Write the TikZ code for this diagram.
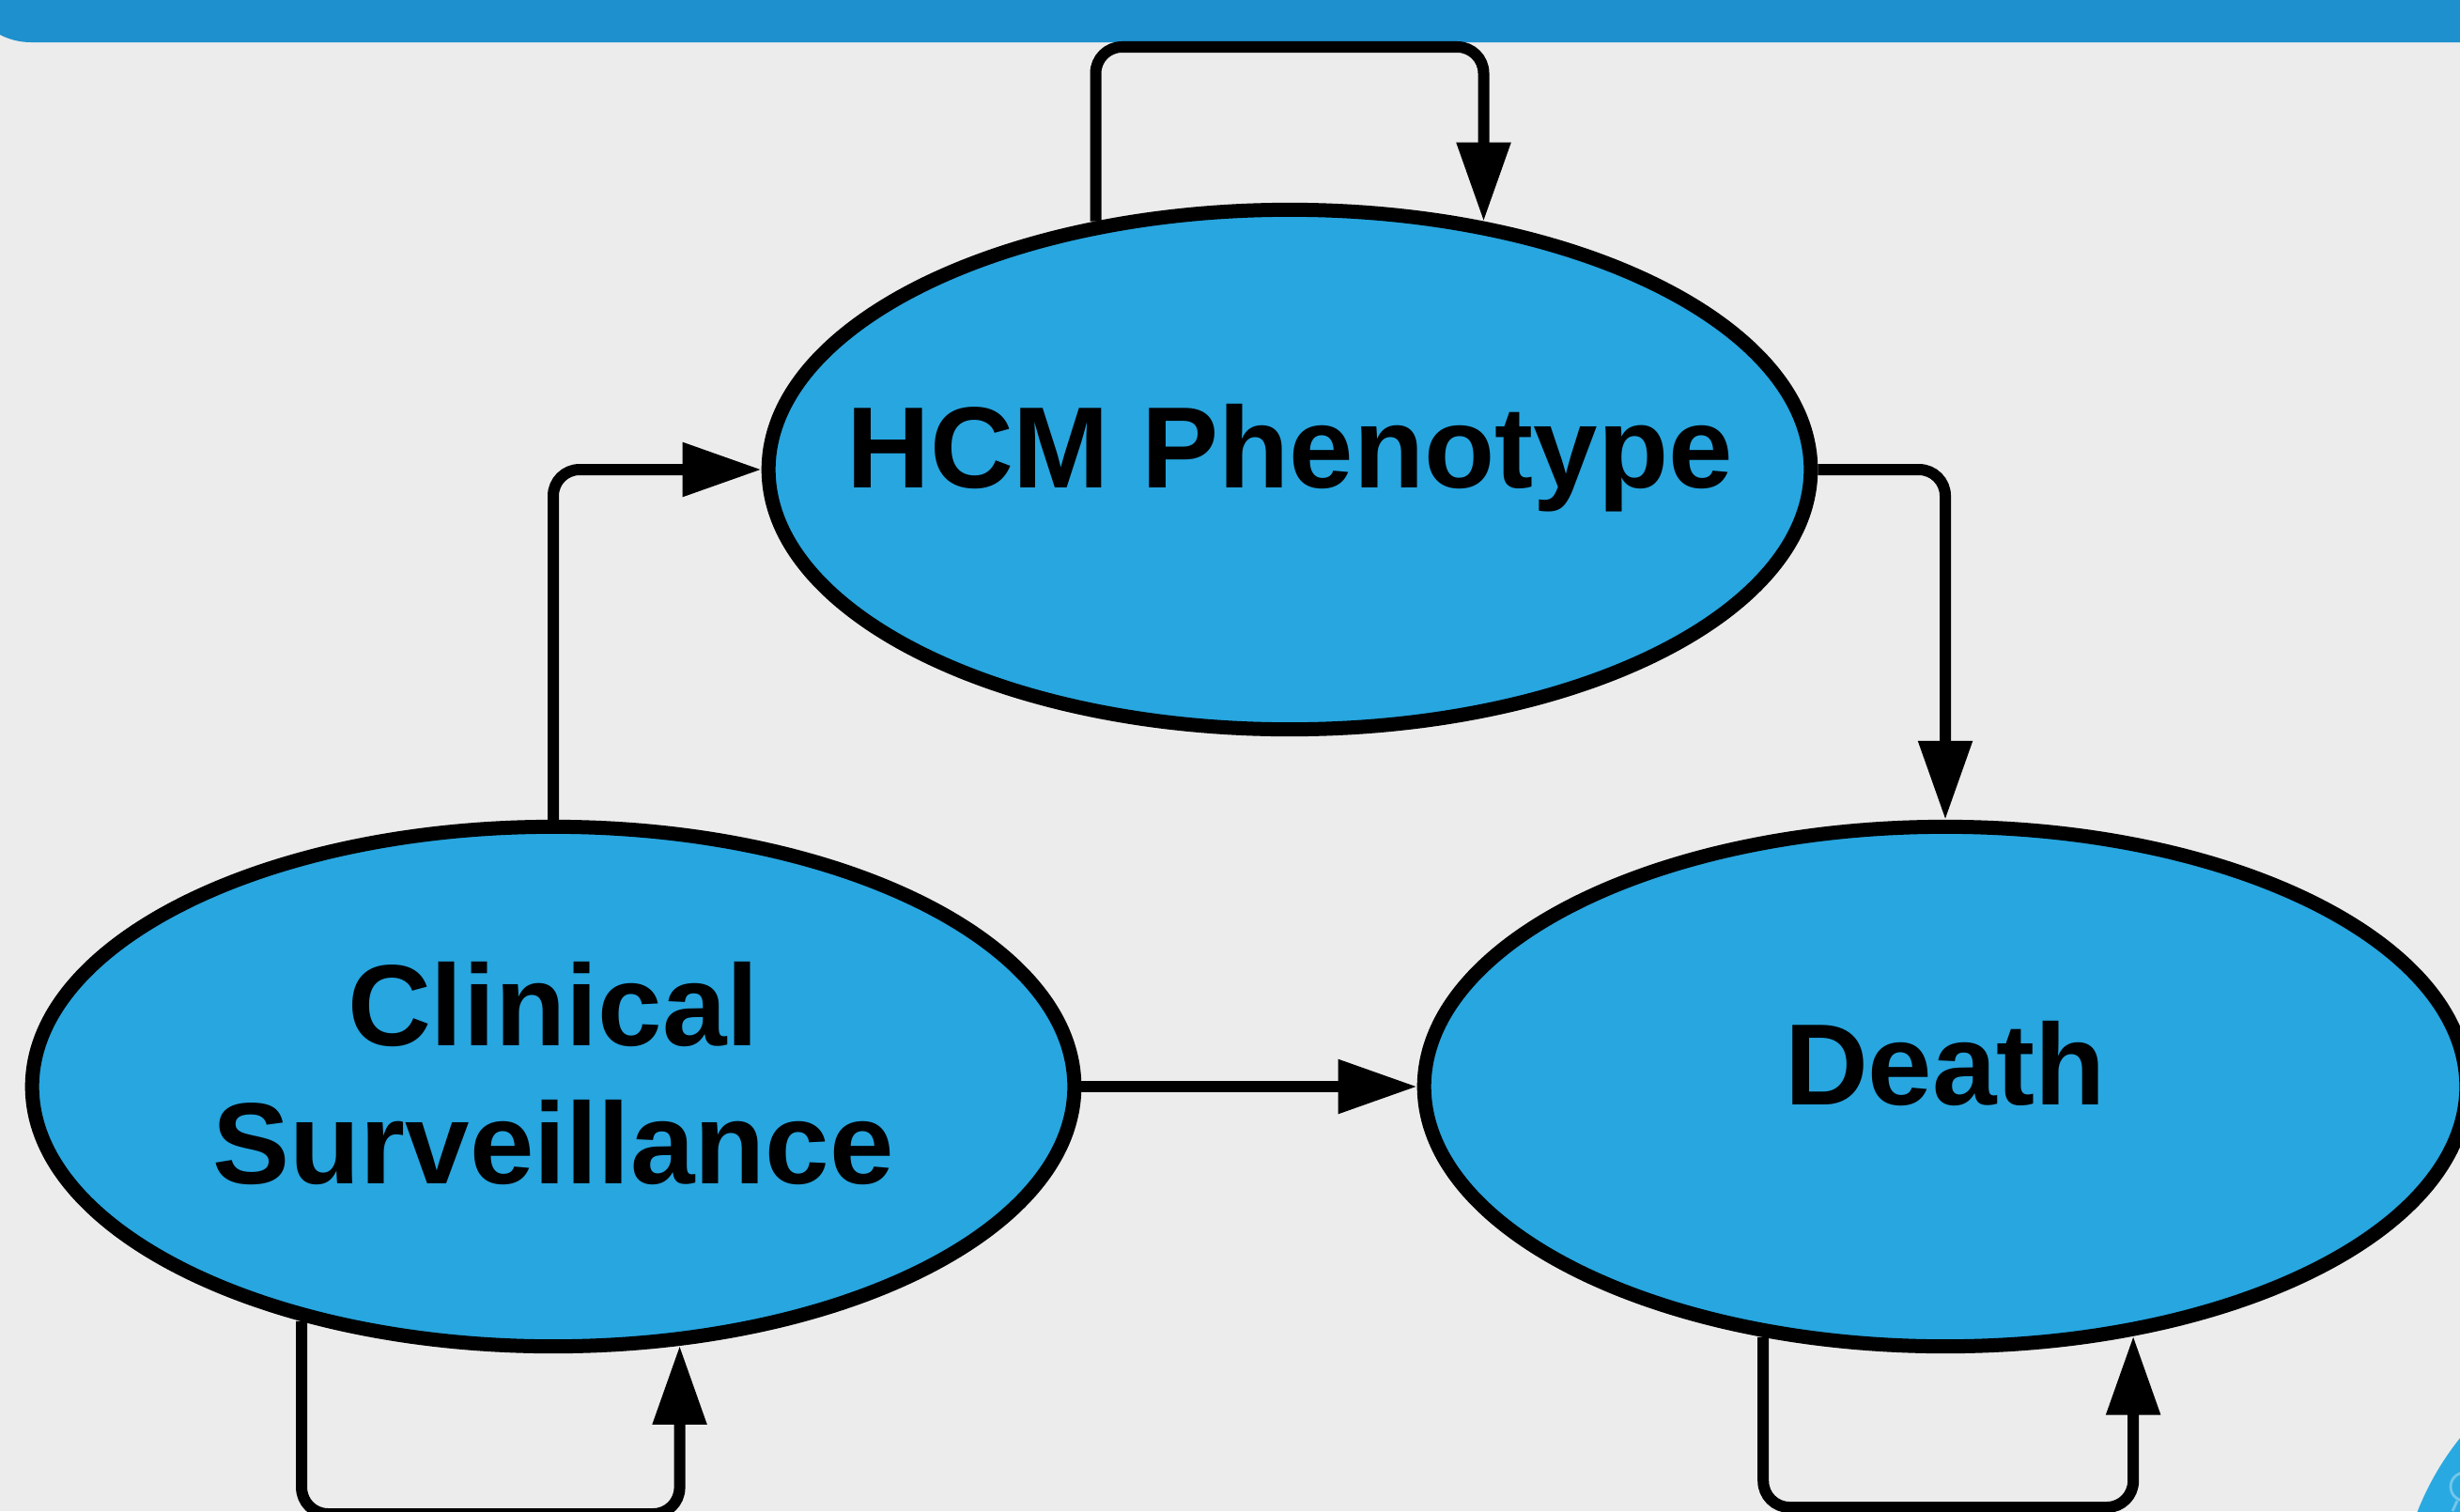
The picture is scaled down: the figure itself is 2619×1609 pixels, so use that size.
\documentclass[tikz,border=0pt]{standalone}
\usepackage{fontspec}
\setmainfont{Liberation Sans}
\usetikzlibrary{shapes.geometric, arrows.meta}
\definecolor{bgcol}{HTML}{ECECEC}
\definecolor{barcol}{HTML}{1E90CE}
\definecolor{nodeblue}{HTML}{27A6E0}
\definecolor{cornerblue}{HTML}{29A9E1}
\tikzset{
  state/.style={ellipse, draw=black, fill=nodeblue, line width=0.15cm,
    minimum width=11.09cm, minimum height=5.53cm, inner sep=0pt},
  lbl/.style={font=\fontsize{35}{42}\selectfont\bfseries, text=black,
    align=center, inner sep=0pt},
  conn/.style={draw=black, line width=0.12cm, rounded corners=0.28cm,
    -{Triangle[length=0.84cm,width=0.55cm]}}
}
\begin{document}
\begin{tikzpicture}[x=0.01cm,y=-0.01cm]
\useasboundingbox (0,0) rectangle (2619,1609);
\clip (0,0) rectangle (2619,1609);
\fill[bgcol] (0,0) rectangle (2619,1609);
\fill[barcol, rounded corners=0.72cm] (-39,-200) rectangle (2800,45);
\fill[cornerblue] (2855,1720) circle[radius=3.02cm];
\draw[white, opacity=0.35, line width=0.8pt] (2624,1583) circle[radius=0.15cm];
\draw[white, opacity=0.35, line width=0.8pt] (2616,1598) -- (2611,1609);

\node[state] (hcm) at (1373,500) {};
\node[state] (cs) at (589,1157) {};
\node[state] (death) at (2071,1157) {};

\node[lbl, anchor=base] (hcmlbl) at ([yshift=-0.19cm]hcm.center) {HCM Phenotype};
\node[lbl, anchor=base] (deathlbl) at ([yshift=-0.197cm]death.center) {Death};
\node[lbl] (cslbl) at ([yshift=0.14cm]cs.center) {Clinical\\Surveillance};

\coordinate (hcmtop) at (1373,50);
\coordinate (csbot) at (589,1612);
\coordinate (deathbot) at (2071,1605);

\draw[conn] (cs.north) |- (hcm.west);
\draw[conn] (hcm.east) -| (death.north);
\draw[conn] (cs.east) -- (death.west);
\draw[conn] (hcm.128) -- (hcm.128 |- hcmtop) -- (hcm.52 |- hcmtop) -- (hcm.52);
\draw[conn] (cs.223) -- (cs.223 |- csbot) -- (cs.296 |- csbot) -- (cs.296);
\draw[conn] (death.234) -- (death.234 |- deathbot) -- (death.307 |- deathbot) -- (death.307);
\end{tikzpicture}
\end{document}
